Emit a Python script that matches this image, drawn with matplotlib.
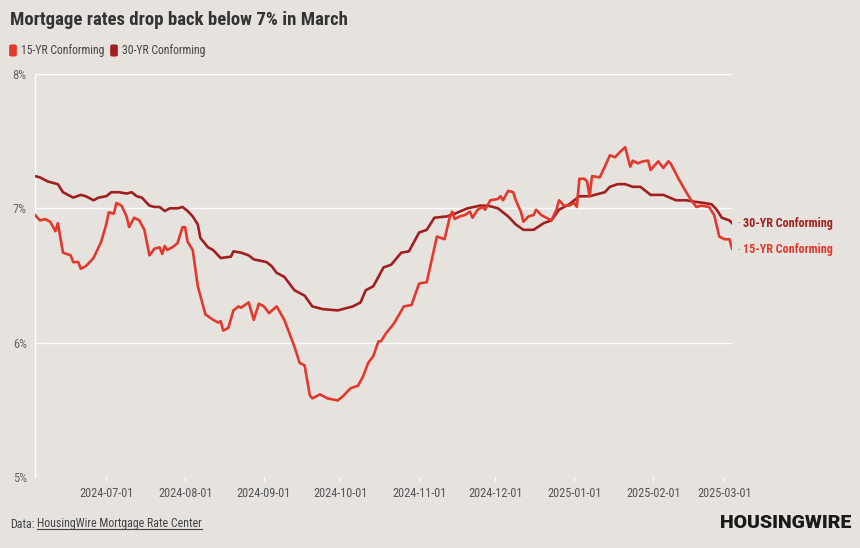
import matplotlib
matplotlib.use("Agg")
import matplotlib.pyplot as plt
import matplotlib.dates as mdates
from matplotlib import font_manager
from matplotlib.patches import FancyBboxPatch
from matplotlib.lines import Line2D
import pandas as pd

# 15-year conforming rate (%)
dates_15 = ["2024-06-03", "2024-06-05", "2024-06-07", "2024-06-09", "2024-06-11", "2024-06-12",
            "2024-06-14", "2024-06-17", "2024-06-18", "2024-06-20", "2024-06-21", "2024-06-23",
            "2024-06-26", "2024-06-29", "2024-07-01", "2024-07-02", "2024-07-04", "2024-07-05",
            "2024-07-07", "2024-07-09", "2024-07-10", "2024-07-12", "2024-07-14", "2024-07-16",
            "2024-07-18", "2024-07-20", "2024-07-22", "2024-07-23", "2024-07-24", "2024-07-25",
            "2024-07-27", "2024-07-29", "2024-07-31", "2024-08-01", "2024-08-02", "2024-08-04",
            "2024-08-06", "2024-08-09", "2024-08-12", "2024-08-14", "2024-08-15", "2024-08-16",
            "2024-08-18", "2024-08-20", "2024-08-22", "2024-08-23", "2024-08-26", "2024-08-28",
            "2024-08-30", "2024-09-01", "2024-09-03", "2024-09-06", "2024-09-09", "2024-09-13",
            "2024-09-15", "2024-09-17", "2024-09-19", "2024-09-20", "2024-09-23", "2024-09-26",
            "2024-09-30", "2024-10-02", "2024-10-05", "2024-10-08", "2024-10-10", "2024-10-12",
            "2024-10-14", "2024-10-16", "2024-10-17", "2024-10-19", "2024-10-22", "2024-10-26",
            "2024-10-29", "2024-11-01", "2024-11-04", "2024-11-08", "2024-11-11", "2024-11-13",
            "2024-11-14", "2024-11-15", "2024-11-17", "2024-11-19", "2024-11-21", "2024-11-22",
            "2024-11-24", "2024-11-26", "2024-11-27", "2024-11-29", "2024-12-02", "2024-12-03",
            "2024-12-04", "2024-12-06", "2024-12-08", "2024-12-09", "2024-12-11", "2024-12-12",
            "2024-12-14", "2024-12-16", "2024-12-17", "2024-12-19", "2024-12-21", "2024-12-23",
            "2024-12-25", "2024-12-26", "2024-12-28", "2024-12-30", "2025-01-01", "2025-01-02",
            "2025-01-03", "2025-01-05", "2025-01-06", "2025-01-07", "2025-01-08", "2025-01-11",
            "2025-01-13", "2025-01-15", "2025-01-17", "2025-01-19", "2025-01-21", "2025-01-23",
            "2025-01-24", "2025-01-26", "2025-01-28", "2025-01-30", "2025-01-31", "2025-02-03",
            "2025-02-05", "2025-02-07", "2025-02-08", "2025-02-11", "2025-02-14", "2025-02-16",
            "2025-02-18", "2025-02-20", "2025-02-23", "2025-02-25", "2025-02-27", "2025-03-01",
            "2025-03-03", "2025-03-04"]
rate_15 = [6.95, 6.91, 6.92, 6.90, 6.83, 6.89,
           6.67, 6.65, 6.60, 6.60, 6.55, 6.57,
           6.63, 6.75, 6.88, 6.97, 6.96, 7.04,
           7.02, 6.94, 6.86, 6.93, 6.91, 6.84,
           6.65, 6.70, 6.71, 6.66, 6.72, 6.69,
           6.71, 6.74, 6.86, 6.86, 6.75, 6.69,
           6.42, 6.21, 6.17, 6.15, 6.16, 6.09,
           6.11, 6.24, 6.27, 6.26, 6.30, 6.17,
           6.29, 6.27, 6.22, 6.27, 6.17, 5.97,
           5.85, 5.83, 5.61, 5.585, 5.615, 5.585,
           5.57, 5.60, 5.66, 5.68, 5.75, 5.85,
           5.90, 6.01, 6.01, 6.07, 6.14, 6.27,
           6.28, 6.44, 6.45, 6.79, 6.77, 6.93,
           6.975, 6.92, 6.94, 6.95, 6.975, 6.93,
           6.99, 7.01, 6.99, 7.06, 7.07, 7.09,
           7.06, 7.13, 7.12, 7.06, 6.975, 6.90,
           6.94, 6.95, 6.99, 6.95, 6.93, 6.91,
           6.99, 7.06, 7.02, 7.02, 7.04, 7.01,
           7.22, 7.22, 7.20, 7.09, 7.24, 7.23,
           7.31, 7.395, 7.38, 7.42, 7.455, 7.31,
           7.355, 7.335, 7.35, 7.355, 7.285, 7.35,
           7.30, 7.35, 7.33, 7.22, 7.12, 7.06,
           7.01, 7.02, 7.01, 6.95, 6.79, 6.77,
           6.77, 6.70]

# 30-year conforming rate (%)
dates_30 = ["2024-06-03", "2024-06-05", "2024-06-08", "2024-06-12", "2024-06-14", "2024-06-15",
            "2024-06-18", "2024-06-21", "2024-06-23", "2024-06-26", "2024-06-28", "2024-07-01",
            "2024-07-03", "2024-07-06", "2024-07-09", "2024-07-11", "2024-07-13", "2024-07-15",
            "2024-07-18", "2024-07-20", "2024-07-22", "2024-07-24", "2024-07-26", "2024-07-29",
            "2024-07-31", "2024-08-02", "2024-08-04", "2024-08-06", "2024-08-07", "2024-08-10",
            "2024-08-12", "2024-08-15", "2024-08-19", "2024-08-20", "2024-08-23", "2024-08-26",
            "2024-08-28", "2024-09-02", "2024-09-04", "2024-09-06", "2024-09-09", "2024-09-13",
            "2024-09-17", "2024-09-20", "2024-09-24", "2024-09-30", "2024-10-02", "2024-10-06",
            "2024-10-09", "2024-10-11", "2024-10-14", "2024-10-18", "2024-10-21", "2024-10-25",
            "2024-10-28", "2024-11-01", "2024-11-04", "2024-11-07", "2024-11-12", "2024-11-15",
            "2024-11-20", "2024-11-25", "2024-11-28", "2024-12-02", "2024-12-06", "2024-12-09",
            "2024-12-12", "2024-12-16", "2024-12-20", "2024-12-23", "2024-12-26", "2024-12-30",
            "2025-01-03", "2025-01-07", "2025-01-09", "2025-01-13", "2025-01-15", "2025-01-18",
            "2025-01-21", "2025-01-24", "2025-01-27", "2025-01-31", "2025-02-05", "2025-02-10",
            "2025-02-14", "2025-02-17", "2025-02-21", "2025-02-24", "2025-02-26", "2025-02-28",
            "2025-03-03", "2025-03-04"]
rate_30 = [7.24, 7.23, 7.20, 7.18, 7.12, 7.11,
           7.08, 7.10, 7.09, 7.06, 7.08, 7.09,
           7.12, 7.12, 7.11, 7.12, 7.09, 7.08,
           7.02, 7.01, 7.01, 6.98, 7.00, 7.00,
           7.01, 6.98, 6.94, 6.88, 6.78, 6.71,
           6.69, 6.63, 6.64, 6.68, 6.67, 6.65,
           6.62, 6.60, 6.57, 6.52, 6.49, 6.39,
           6.35, 6.27, 6.25, 6.24, 6.25, 6.27,
           6.30, 6.39, 6.42, 6.56, 6.58, 6.67,
           6.68, 6.82, 6.84, 6.93, 6.94, 6.96,
           7.00, 7.02, 7.02, 7.00, 6.94, 6.88,
           6.84, 6.84, 6.89, 6.91, 6.99, 7.03,
           7.09, 7.09, 7.10, 7.12, 7.16, 7.18,
           7.18, 7.16, 7.16, 7.10, 7.10, 7.06,
           7.06, 7.05, 7.04, 7.03, 6.99, 6.93,
           6.91, 6.89]

x_ticks = ["2024-07-01", "2024-08-01", "2024-09-01", "2024-10-01", "2024-11-01",
           "2024-12-01", "2025-01-01", "2025-02-01", "2025-03-01"]
y_ticks = [5, 6, 7, 8]

BG = "#e6e3df"
RED = "#e3382d"
DARK = "#a01f1f"

# look for a condensed face; otherwise shrink Roboto a bit
installed = {f.name for f in font_manager.fontManager.ttflist}
STRETCH = "normal"
SCALE = 0.82
COND = ["Roboto", "DejaVu Sans"]
for cand in ["Roboto Condensed", "Liberation Sans Narrow", "Open Sans Condensed"]:
    if cand in installed:
        COND = [cand, "DejaVu Sans"]
        SCALE = 1.0
        break
else:
    cond_faces = [f for f in font_manager.fontManager.ttflist
                  if f.stretch in ("condensed", "semi-condensed", "extra-condensed")
                  or (isinstance(f.stretch, int) and f.stretch < 500)]
    if cond_faces:
        COND = [cond_faces[0].name, "DejaVu Sans"]
        STRETCH = cond_faces[0].stretch
        SCALE = 1.0

fig = plt.figure(figsize=(8.6, 5.48), dpi=100, facecolor=BG)
ax = fig.add_axes([35 / 860, 1 - 477 / 548, (732 - 35) / 860, (477 - 74) / 548])
ax.set_facecolor(BG)

d15 = pd.to_datetime(dates_15)
d30 = pd.to_datetime(dates_30)
ax.plot(d30, rate_30, color=DARK, lw=1.9, solid_joinstyle="round", zorder=3)
ax.plot(d15, rate_15, color=RED, lw=1.9, solid_joinstyle="round", zorder=4)

ax.set_xlim(d15[0], d15[-1])
ax.set_ylim(5, 8)
ax.set_yticks(y_ticks)
ax.set_yticklabels([f"{v}%" for v in y_ticks])
ax.set_xticks(pd.to_datetime(x_ticks))
ax.xaxis.set_major_formatter(mdates.DateFormatter("%Y-%m-%d"))
ax.grid(axis="y", color="white", lw=1.0)
ax.set_axisbelow(True)
for s in ["top", "right", "bottom"]:
    ax.spines[s].set_visible(False)
ax.spines["left"].set_color("white")
ax.spines["left"].set_linewidth(1.0)
ax.tick_params(axis="y", length=0, pad=6, labelsize=9 * SCALE, labelcolor="#666666")
ax.tick_params(axis="x", length=3, color="white", pad=4, labelsize=8.8 * SCALE, labelcolor="#555555")
for lab in ax.get_xticklabels() + ax.get_yticklabels():
    lab.set_family(COND)
    lab.set_stretch(STRETCH)

# direct labels at the line ends
for val, name, col in [(rate_30[-1], "30-YR Conforming", DARK), (6.69, "15-YR Conforming", RED)]:
    ax.annotate("-", xy=(d15[-1], val), xytext=(4, 0), textcoords="offset points",
                va="center", ha="left", color="#999999", fontsize=8, family=COND)
    ax.annotate(name, xy=(d15[-1], val), xytext=(8, 0), textcoords="offset points",
                va="center", ha="left", color=col, fontsize=8.7 * SCALE, fontweight="bold",
                family=COND, fontstretch=STRETCH)

# title and legend
fig.text(10 / 860, 1 - 20 / 548, "Mortgage rates drop back below 7% in March", ha="left", va="center",
         fontsize=13.5 * (0.9 if SCALE < 1 else 1), fontweight="bold", color="#333333",
         family=COND, fontstretch=STRETCH)
for x0, name, col in [(10, "15-YR Conforming", RED), (111, "30-YR Conforming", DARK)]:
    fig.patches.append(FancyBboxPatch((x0 / 860, 1 - 56 / 548), 6 / 860, 11 / 548,
                                      boxstyle="round,pad=0.001,rounding_size=0.003",
                                      transform=fig.transFigure, color=col, lw=0))
    fig.text((x0 + 11) / 860, 1 - 50 / 548, name, ha="left", va="center",
             fontsize=8.5 * SCALE, color="#444444", family=COND, fontstretch=STRETCH)

# footer
lab = fig.text(10 / 860, 1 - 524 / 548, "Data:", ha="left", va="center", fontsize=8.6 * SCALE,
               color="#444444", family=COND, fontstretch=STRETCH)
fig.canvas.draw()
lb = lab.get_window_extent().transformed(fig.transFigure.inverted())
src = fig.text(lb.x1 + 3 / 860, 1 - 524 / 548, "HousingWire Mortgage Rate Center", ha="left",
               va="center", fontsize=8.6 * SCALE, color="#444444", family=COND, fontstretch=STRETCH)
fig.canvas.draw()
bb = src.get_window_extent().transformed(fig.transFigure.inverted())
fig.lines.append(Line2D([bb.x0, bb.x1], [bb.y0 + 0.002, bb.y0 + 0.002], transform=fig.transFigure,
                        color="#444444", lw=0.8))
fig.text(851 / 860, 1 - 523 / 548, "HOUSINGWIRE", ha="right", va="center", fontsize=14,
         fontweight="heavy", color="#1a1a1a", family=["Roboto", "DejaVu Sans"])

fig.savefig("out.png", dpi=100, facecolor=BG)
